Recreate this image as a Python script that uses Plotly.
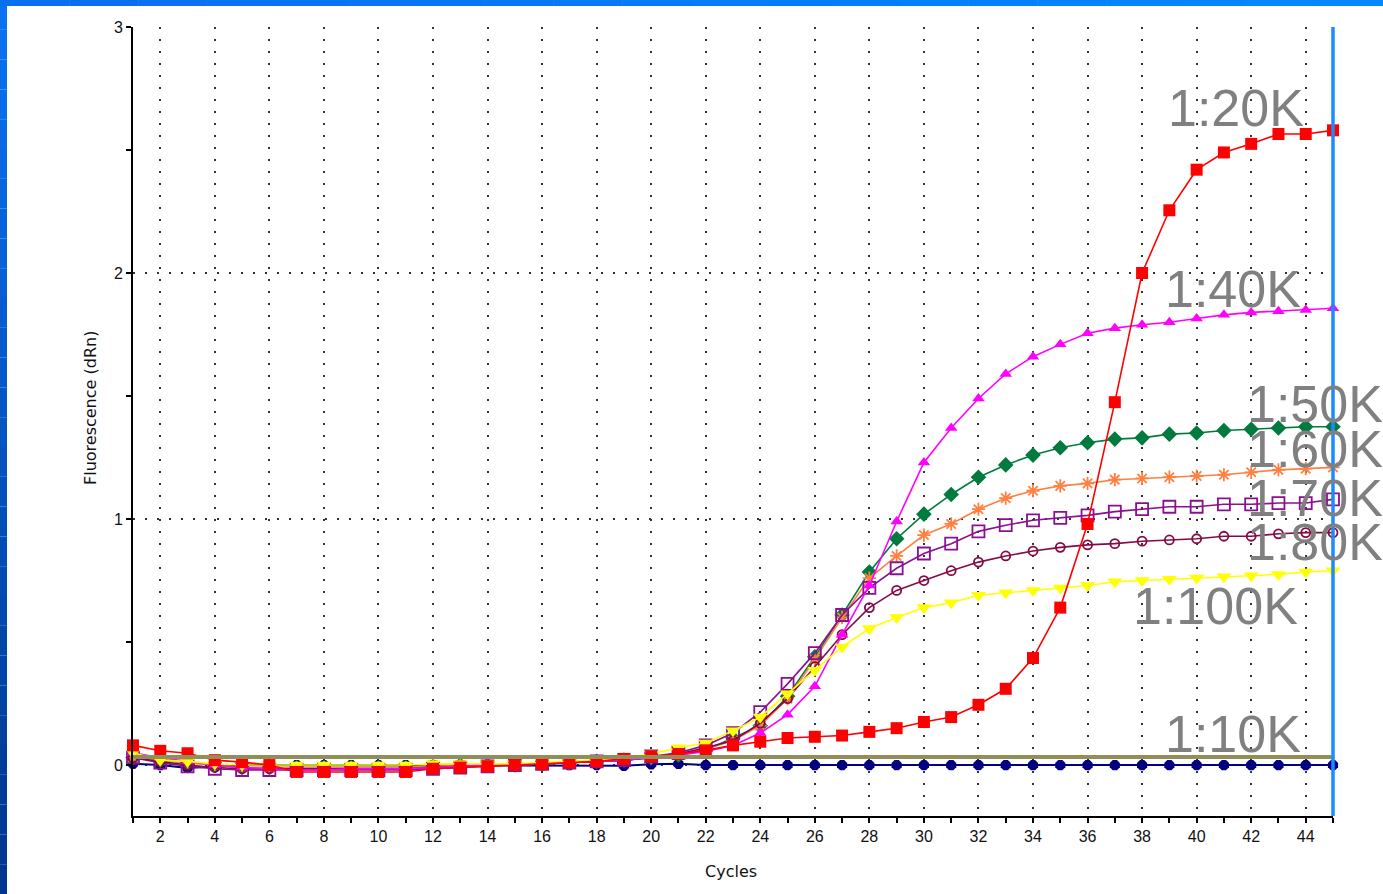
import plotly.graph_objects as go

# PCR amplification curves: fluorescence (dRn) per cycle for each template dilution
cycles = list(range(1, 46))

dil_10k = [0.005, 0.0, -0.012, -0.005, 0.0, 0.0, 0.0, 0.0, 0.0, 0.0,
           0.0, 0.0, 0.0, 0.0, 0.0, 0.0, 0.0, 0.0, -0.003, 0.003,
           0.005, 0.0, 0.0, 0.0, 0.0, 0.0, 0.0, 0.0, 0.0, 0.0,
           0.0, 0.0, 0.0, 0.0, 0.0, 0.0, 0.0, 0.0, 0.0, 0.0,
           0.0, 0.0, 0.0, 0.0, 0.0]
dil_20k = [0.08, 0.058, 0.048, 0.02, 0.012, 0.0, -0.028, -0.028, -0.028, -0.028,
           -0.028, -0.015, -0.01, -0.005, 0.0, 0.005, 0.01, 0.015, 0.025, 0.035,
           0.045, 0.06, 0.08, 0.095, 0.11, 0.115, 0.12, 0.135, 0.15, 0.175,
           0.195, 0.245, 0.31, 0.435, 0.64, 0.98, 1.475, 2.0, 2.255, 2.42,
           2.49, 2.525, 2.565, 2.565, 2.58]
dil_40k = [0.05, 0.03, 0.015, 0.0, -0.01, -0.015, -0.02, -0.02, -0.015, -0.015,
           -0.015, -0.01, -0.005, 0.0, 0.0, 0.005, 0.01, 0.015, 0.02, 0.03,
           0.04, 0.055, 0.08, 0.13, 0.205, 0.32, 0.53, 0.73, 0.99, 1.23,
           1.37, 1.49, 1.59, 1.66, 1.71, 1.755, 1.776, 1.79, 1.80, 1.815,
           1.83, 1.84, 1.845, 1.85, 1.857]
dil_50k = [0.03, 0.02, 0.01, 0.0, -0.01, -0.01, -0.01, -0.01, -0.01, -0.01,
           -0.01, -0.005, 0.0, 0.0, 0.0, 0.005, 0.01, 0.015, 0.02, 0.03,
           0.04, 0.06, 0.11, 0.16, 0.28, 0.44, 0.61, 0.785, 0.92, 1.02,
           1.10, 1.17, 1.22, 1.26, 1.29, 1.31, 1.325, 1.33, 1.345, 1.35,
           1.36, 1.365, 1.37, 1.375, 1.375]
dil_60k = [0.03, 0.02, 0.01, 0.0, -0.01, -0.01, -0.01, -0.01, -0.01, -0.01,
           -0.01, 0.0, 0.0, 0.0, 0.0, 0.005, 0.01, 0.015, 0.02, 0.03,
           0.045, 0.065, 0.10, 0.16, 0.27, 0.43, 0.60, 0.76, 0.85, 0.935,
           0.98, 1.04, 1.085, 1.115, 1.135, 1.145, 1.16, 1.165, 1.17, 1.175,
           1.18, 1.19, 1.20, 1.205, 1.21]
dil_70k = [0.03, 0.01, -0.005, -0.015, -0.02, -0.02, -0.02, -0.02, -0.02, -0.02,
           -0.02, -0.015, -0.01, -0.005, 0.0, 0.005, 0.01, 0.015, 0.02, 0.035,
           0.05, 0.08, 0.13, 0.215, 0.33, 0.455, 0.61, 0.72, 0.80, 0.86,
           0.90, 0.95, 0.975, 0.995, 1.005, 1.015, 1.03, 1.04, 1.05, 1.05,
           1.06, 1.06, 1.065, 1.065, 1.08]
dil_80k = [0.03, 0.015, 0.0, -0.01, -0.015, -0.015, -0.015, -0.015, -0.015, -0.015,
           -0.015, -0.01, -0.005, 0.0, 0.0, 0.005, 0.01, 0.015, 0.02, 0.03,
           0.045, 0.07, 0.10, 0.17, 0.27, 0.40, 0.53, 0.64, 0.71, 0.75,
           0.79, 0.825, 0.85, 0.87, 0.885, 0.895, 0.90, 0.91, 0.915, 0.92,
           0.93, 0.93, 0.94, 0.945, 0.945]
dil_100k = [0.05, 0.02, 0.015, 0.005, 0.0, 0.0, 0.0, 0.0, 0.0, 0.0,
            0.0, 0.005, 0.005, 0.005, 0.005, 0.01, 0.015, 0.02, 0.03, 0.045,
            0.07, 0.09, 0.14, 0.195, 0.29, 0.385, 0.48, 0.555, 0.60, 0.64,
            0.66, 0.69, 0.70, 0.71, 0.72, 0.73, 0.745, 0.75, 0.755, 0.76,
            0.765, 0.77, 0.775, 0.785, 0.79]

threshold = 0.033
cursor_cycle = 45
x_range = [1, 45]
y_range = [-0.207, 3.0]

# dilution label text and where each label sits (cycle at right edge, dRn at text middle)
label_text = ["1:20K", "1:40K", "1:50K", "1:60K", "1:70K", "1:80K", "1:100K", "1:10K"]
label_x = [44.0, 43.9, 46.9, 46.9, 46.9, 46.9, 43.8, 43.9]
label_y = [2.67, 1.935, 1.467, 1.285, 1.085, 0.905, 0.646, 0.126]

series = [
    # name, values, colour, marker symbol, marker size
    ("1:10K", dil_10k, "#000080", "octagon", 11),
    ("1:50K", dil_50k, "#007a3d", "diamond", 12),
    ("1:60K", dil_60k, "#ff8040", "asterisk-open", 11),
    ("1:70K", dil_70k, "#8a1090", "square-open", 12),
    ("1:80K", dil_80k, "#850a45", "circle-open", 9),
    ("1:40K", dil_40k, "#ff00ff", "triangle-up", 11),
    ("1:100K", dil_100k, "#ffff00", "triangle-down", 13),
    ("1:20K", dil_20k, "#ff0000", "square", 12),
]

fig = go.Figure()
for name, vals, color, symbol, size in series:
    open_sym = symbol.endswith("-open")
    fig.add_trace(go.Scatter(
        x=cycles, y=vals, name=name, mode="lines+markers",
        line=dict(color=color, width=2 if name == "1:10K" else 1.6),
        marker=dict(symbol=symbol, size=size, color=color,
                    line=dict(color=color, width=1.8 if open_sym else 0)),
        cliponaxis=False, showlegend=False,
    ))

# page geometry (pixels) for the slide frame
W, H = 1383, 894
ML, MR, MT, MB = 133, 50, 27, 78
PW, PH = W - ML - MR, H - MT - MB


def px_x(p):
    return (p - ML) / PW


def px_y(p):
    return 1 - (p - MT) / PH


def cyc_to_paper(c):
    return (c - x_range[0]) / (x_range[1] - x_range[0])


def drn_to_paper(v):
    return (v - y_range[0]) / (y_range[1] - y_range[0])


def mix(c1, c2, t):
    a = [int(c1[i:i + 2], 16) for i in (1, 3, 5)]
    b = [int(c2[i:i + 2], 16) for i in (1, 3, 5)]
    return "#" + "".join(f"{round(a[k] + (b[k] - a[k]) * t):02x}" for k in range(3))


shapes = []
# blue slide frame: left strip (vertical gradient) and top strip
n = 30
for i in range(n):
    y0, y1 = H * i / n, H * (i + 1) / n
    shapes.append(dict(type="rect", xref="paper", yref="paper",
                       x0=px_x(0), x1=px_x(7), y0=px_y(y1), y1=px_y(y0),
                       fillcolor=mix("#0a72f2", "#00358f", i / (n - 1)),
                       line=dict(width=0), layer="above"))
m = 20
for i in range(m):
    x0, x1 = W * i / m, W * (i + 1) / m
    shapes.append(dict(type="rect", xref="paper", yref="paper",
                       x0=px_x(x0), x1=px_x(x1 + 0.5), y0=px_y(6), y1=px_y(0),
                       fillcolor=mix("#0a6ef0", "#0088ff", i / (m - 1)),
                       line=dict(width=0), layer="above"))

# threshold line
shapes.append(dict(type="line", xref="x", yref="y", x0=x_range[0], x1=x_range[1],
                   y0=threshold, y1=threshold,
                   line=dict(color="#8f8f5a", width=4), layer="above"))
# cycle cursor (paper-referenced so it is not clipped at the plot edge)
shapes.append(dict(type="line", xref="paper", yref="paper",
                   x0=cyc_to_paper(cursor_cycle), x1=cyc_to_paper(cursor_cycle),
                   y0=0, y1=1,
                   line=dict(color="#1a8cff", width=3.5), layer="above"))

annotations = []
for t, x, y in zip(label_text, label_x, label_y):
    annotations.append(dict(x=cyc_to_paper(x), y=drn_to_paper(y),
                            xref="paper", yref="paper", text=t,
                            showarrow=False, xanchor="right", yanchor="middle",
                            font=dict(family="Liberation Sans, Arial", size=52,
                                      color="#808080")))
annotations.append(dict(x=px_x(731), y=px_y(871), xref="paper", yref="paper",
                        text="Cycles", showarrow=False,
                        xanchor="center", yanchor="middle",
                        font=dict(family="DejaVu Sans", size=16, color="#111")))
annotations.append(dict(x=px_x(90), y=px_y(408), xref="paper", yref="paper",
                        text="Fluorescence (dRn)", showarrow=False, textangle=-90,
                        xanchor="center", yanchor="middle",
                        font=dict(family="DejaVu Sans", size=16, color="#111")))

tick_font = dict(family="Liberation Sans, Arial", size=16, color="#111")
grid_style = dict(gridcolor="#333333", gridwidth=2, griddash="2px,10px")

fig.update_layout(
    width=W, height=H,
    margin=dict(l=ML, r=MR, t=MT, b=MB),
    paper_bgcolor="white", plot_bgcolor="white",
    shapes=shapes, annotations=annotations,
    xaxis=dict(range=x_range, tickmode="linear", tick0=2, dtick=2,
               showgrid=True, **grid_style, zeroline=False,
               showline=True, linecolor="black", linewidth=2,
               ticks="outside", ticklen=5, tickwidth=2, tickcolor="black",
               minor=dict(tickmode="linear", tick0=1, dtick=1, ticks="outside",
                          ticklen=5, tickwidth=2, tickcolor="black", showgrid=False),
               tickfont=tick_font),
    yaxis=dict(range=y_range, tickmode="linear", tick0=0, dtick=1,
               showgrid=True, **grid_style, zeroline=False,
               showline=True, linecolor="black", linewidth=2,
               ticks="outside", ticklen=5, tickwidth=2, tickcolor="black",
               minor=dict(tickmode="linear", tick0=0, dtick=0.5, ticks="outside",
                          ticklen=5, tickwidth=2, tickcolor="black", showgrid=False),
               tickfont=tick_font),
    xaxis2=dict(range=x_range, overlaying="x", anchor="y", side="bottom",
                tickmode="linear", tick0=1, dtick=1, ticks="inside", ticklen=5,
                tickwidth=2, tickcolor="black", showticklabels=False,
                showgrid=False, zeroline=False, showline=False),
    yaxis2=dict(range=y_range, overlaying="y", anchor="x", side="left",
                tickmode="linear", tick0=0, dtick=0.5, ticks="inside", ticklen=6,
                tickwidth=2, tickcolor="black", showticklabels=False,
                showgrid=False, zeroline=False, showline=False),
)

fig.write_html("out.html")
